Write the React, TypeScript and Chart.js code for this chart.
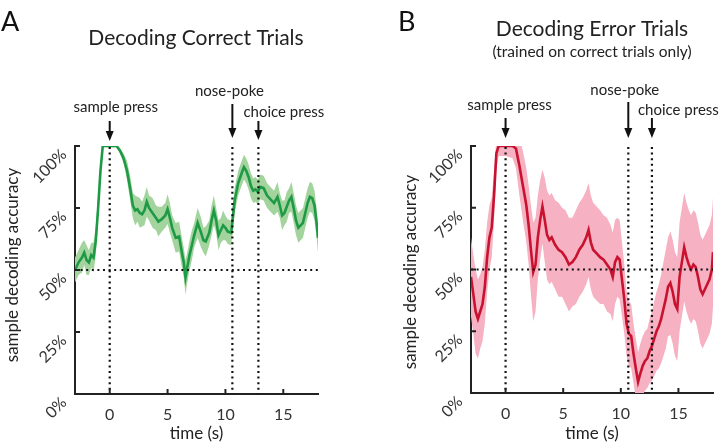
import React, { useEffect, useRef } from "react";
import { Chart, registerables } from "chart.js";

Chart.register(...registerables);

// ---------------- data ----------------
const TIME_A = [
  -3, -2.7, -2.4, -2.2, -2.0, -1.8, -1.6, -1.4, -1.2, -1.0, -0.8, -0.6, 0.0, 0.6, 0.9, 1.2, 1.5, 1.8, 2.0, 2.2,
  2.4, 2.6, 2.8, 3.0, 3.2, 3.4, 3.7, 4.0, 4.2, 4.5, 4.8, 5.0, 5.2, 5.4, 5.7, 6.0, 6.2, 6.4, 6.55, 6.7,
  6.9, 7.1, 7.3, 7.6, 7.9, 8.1, 8.3, 8.6, 8.8, 9.0, 9.2, 9.4, 9.6, 9.8, 10.0, 10.2, 10.5, 10.8, 11.1, 11.4,
  11.6, 11.8, 12.0, 12.2, 12.4, 12.6, 12.8, 13.0, 13.3, 13.6, 13.9, 14.2, 14.5, 14.7, 14.9, 15.1, 15.3, 15.5, 15.7, 15.9,
  16.1, 16.3, 16.5, 16.7, 16.9, 17.1, 17.3, 17.5, 17.7, 17.9, 18.0,
];
const ACC_A = [
  50, 53, 55, 57, 54, 53, 56, 55, 62, 75, 90, 100, 100, 100, 98, 95, 90, 82, 76, 74,
  74.5, 73, 72.5, 74, 77.5, 75, 73, 71, 69.5, 70.5, 72, 74.5, 71, 67, 63, 63.5, 58, 53, 47, 51,
  56, 60, 64, 69, 65, 62, 61.5, 65, 70, 74, 70, 64, 66, 68, 67, 65.5, 65, 78, 85, 89,
  91.5, 90, 87.5, 84, 82, 82.5, 81.5, 83.5, 83, 80, 78.5, 77, 79.5, 76, 72, 73, 75.5, 78, 79.5, 75,
  70, 67, 68, 69, 73, 77, 79.5, 79, 76, 68, 63,
];
const ERR_A = [
  5, 5, 6, 5, 6, 5, 5, 6, 6, 5, 3, 0.5, 0.5, 0.5, 1, 2, 4, 5, 5, 6,
  5, 6, 5, 6, 6, 5, 6, 5, 6, 5, 5, 6, 6, 5, 6, 6, 6, 6, 7, 6,
  6, 6, 5, 6, 6, 5, 6, 5, 6, 6, 5, 6, 5, 6, 5, 5, 5, 5, 5, 5,
  5, 5, 5, 5, 5, 5, 5, 5, 5, 5, 5, 5, 6, 5, 6, 5, 6, 5, 6, 6,
  6, 6, 6, 6, 6, 6, 6, 6, 6, 6, 6,
];

const TIME_B = [
  -3, -2.8, -2.6, -2.4, -2.2, -2.0, -1.8, -1.6, -1.4, -1.2, -1.0, -0.8, -0.6, 0.0, 0.6, 0.9, 1.2, 1.5, 1.8, 2.0,
  2.2, 2.4, 2.6, 2.8, 3.0, 3.2, 3.4, 3.6, 3.8, 4.0, 4.3, 4.6, 4.9, 5.2, 5.5, 5.8, 6.1, 6.4, 6.7, 7.0,
  7.2, 7.4, 7.6, 7.9, 8.2, 8.5, 8.8, 9.1, 9.3, 9.5, 9.7, 9.9, 10.1, 10.3, 10.5, 10.7, 10.9, 11.1, 11.3, 11.5,
  11.7, 11.9, 12.1, 12.3, 12.5, 12.7, 12.9, 13.1, 13.3, 13.5, 13.7, 13.9, 14.1, 14.3, 14.5, 14.7, 14.9, 15.1, 15.3, 15.5,
  15.7, 15.9, 16.1, 16.3, 16.5, 16.7, 16.9, 17.1, 17.3, 17.5, 17.7, 17.9, 18.0,
];
const ACC_B = [
  47, 40, 33, 30, 33, 36, 43, 55, 63, 67, 80, 97, 100, 100, 100, 99, 92, 84, 76, 68,
  58, 49, 52, 63, 70, 75.5, 70, 64, 62, 63, 60, 58, 57, 55, 52, 53, 55, 58, 60, 63,
  66, 61, 58, 56.5, 55, 54, 52, 50, 47, 53, 55, 54, 46, 38, 28, 24, 23, 16, 10, 4.5,
  8, 11, 13, 14, 17, 19, 22, 25, 27, 30, 34, 38, 43, 44.5, 41, 36, 34, 47, 53, 59,
  55, 52, 50, 52, 51, 47, 42, 40, 42, 44, 46, 50, 57,
];
const ERR_B = [
  16, 16, 17, 16, 15, 15, 15, 14, 13, 12, 10, 6, 4, 4, 5, 8, 12, 14, 15, 16,
  18, 20, 19, 17, 16, 15, 17, 18, 18, 18, 18, 19, 18, 19, 19, 18, 19, 19, 19, 19,
  19, 19, 19, 19, 19, 18, 19, 18, 18, 17, 16, 16, 15, 14, 13, 13, 13, 12, 12, 12,
  12, 12, 12, 12, 13, 14, 15, 16, 17, 18, 19, 20, 20, 21, 21, 21, 21, 22, 22, 22,
  22, 22, 22, 22, 22, 22, 22, 22, 22, 22, 22, 22, 22,
];

const X_TICKS = [0, 5, 10, 15];
const Y_TICKS = [0, 25, 50, 75, 100];
const Y_TICK_LABELS = ["0%", "25%", "50%", "75%", "100%"];
const EVENT_LABELS = ["sample press", "nose-poke", "choice press"];
const EVENT_TIMES_A = [0, 10.6, 12.85];
const EVENT_TIMES_B = [0, 10.65, 12.7];
const CHANCE_LEVEL = 50;
const X_MIN = -3;
const X_MAX = 18;

// ---------------- styling ----------------
const FONT = "Lato, 'Open Sans', sans-serif";
const TEXT = "#222";

type EventPos = { dx: number; baseline: number; align: CanvasTextAlign; arrowTop: number; arrowBottom: number };

type Panel = {
  letter: string;
  letterX: number;
  title: string;
  titleX: number;
  titleY: number;
  subtitle?: string;
  subtitleY?: number;
  time: number[];
  acc: number[];
  err: number[];
  events: number[];
  eventPos: EventPos[];
  line: string;
  band: string;
  yAxisWidth: number;
  padRight: number;
  xAxisHeight: number;
  yTitleX: number;
  yTitleY: number;
};

const PANEL_A: Panel = {
  letter: "A",
  letterX: 1,
  title: "Decoding Correct Trials",
  titleX: 196,
  titleY: 45,
  time: TIME_A,
  acc: ACC_A,
  err: ERR_A,
  events: EVENT_TIMES_A,
  eventPos: [
    { dx: 6, baseline: 112, align: "center", arrowTop: 121, arrowBottom: 141 },
    { dx: -3, baseline: 96, align: "center", arrowTop: 104, arrowBottom: 138 },
    { dx: -15, baseline: 117, align: "left", arrowTop: 121, arrowBottom: 140 },
  ],
  line: "#1e9a46",
  band: "#a3d49e",
  yAxisWidth: 75,
  padRight: 42,
  xAxisHeight: 50,
  yTitleX: 13,
  yTitleY: 265,
};

const PANEL_B: Panel = {
  letter: "B",
  letterX: 38,
  title: "Decoding Error Trials",
  titleX: 232,
  titleY: 36,
  subtitle: "(trained on correct trials only)",
  subtitleY: 57,
  time: TIME_B,
  acc: ACC_B,
  err: ERR_B,
  events: EVENT_TIMES_B,
  eventPos: [
    { dx: 4, baseline: 110, align: "center", arrowTop: 118, arrowBottom: 138 },
    { dx: -3.5, baseline: 95, align: "center", arrowTop: 102, arrowBottom: 138 },
    { dx: -14, baseline: 115, align: "left", arrowTop: 118, arrowBottom: 138 },
  ],
  line: "#c8122f",
  band: "#f6b1c2",
  yAxisWidth: 111,
  padRight: 7,
  xAxisHeight: 51,
  yTitleX: 51,
  yTitleY: 272,
};

function makeDecor(p: Panel) {
  return {
    id: "decor" + p.letter,
    afterDatasetsDraw(chart: any) {
      const { ctx, chartArea: a, scales } = chart;
      const xs = scales.x;
      const ys = scales.y;
      ctx.save();
      ctx.strokeStyle = "#111";
      ctx.lineWidth = 2.2;
      ctx.setLineDash([2, 3.6]);
      const y50 = ys.getPixelForValue(CHANCE_LEVEL);
      ctx.beginPath();
      ctx.moveTo(a.left, y50);
      ctx.lineTo(a.right, y50);
      ctx.stroke();
      p.events.forEach((t) => {
        const x = xs.getPixelForValue(t);
        ctx.beginPath();
        ctx.moveTo(x, a.top + 1);
        ctx.lineTo(x, a.bottom);
        ctx.stroke();
      });
      ctx.restore();
    },
    afterDraw(chart: any) {
      const { ctx, chartArea: a, scales } = chart;
      const xs = scales.x;
      const ys = scales.y;
      ctx.save();
      ctx.strokeStyle = "#222";
      ctx.lineWidth = 2;
      X_TICKS.forEach((v) => {
        const x = xs.getPixelForValue(v);
        ctx.beginPath();
        ctx.moveTo(x, a.bottom);
        ctx.lineTo(x, a.bottom - 5);
        ctx.stroke();
      });
      Y_TICKS.forEach((v) => {
        const y = ys.getPixelForValue(v);
        ctx.beginPath();
        ctx.moveTo(a.left, y);
        ctx.lineTo(a.left + 5, y);
        ctx.stroke();
      });
      ctx.fillStyle = "#333";
      ctx.font = `16px ${FONT}`;
      Y_TICKS.forEach((v, i) => {
        const y = ys.getPixelForValue(v);
        ctx.save();
        ctx.translate(a.left - 11, y + 6);
        ctx.rotate(-Math.PI / 4);
        ctx.textAlign = "right";
        ctx.textBaseline = "middle";
        ctx.fillText(Y_TICK_LABELS[i], 0, 0);
        ctx.restore();
      });
      ctx.save();
      ctx.translate(p.yTitleX, p.yTitleY);
      ctx.rotate(-Math.PI / 2);
      ctx.textAlign = "center";
      ctx.textBaseline = "middle";
      ctx.font = `17px ${FONT}`;
      ctx.fillStyle = TEXT;
      ctx.fillText("sample decoding accuracy", 0, 0);
      ctx.restore();
      ctx.fillStyle = "#111";
      ctx.textBaseline = "alphabetic";
      ctx.textAlign = "left";
      ctx.font = `27px ${FONT}`;
      ctx.fillText(p.letter, p.letterX, 31);
      ctx.textAlign = "center";
      ctx.font = `21px ${FONT}`;
      ctx.fillStyle = TEXT;
      ctx.fillText(p.title, p.titleX, p.titleY);
      if (p.subtitle) {
        ctx.font = `15.5px ${FONT}`;
        ctx.fillText(p.subtitle, p.titleX, p.subtitleY!);
      }
      ctx.font = `15px ${FONT}`;
      p.events.forEach((t, i) => {
        const x = xs.getPixelForValue(t);
        const ep = p.eventPos[i];
        ctx.textAlign = ep.align;
        ctx.fillStyle = TEXT;
        ctx.fillText(EVENT_LABELS[i], x + ep.dx, ep.baseline);
        ctx.strokeStyle = "#111";
        ctx.fillStyle = "#111";
        ctx.lineWidth = 2;
        ctx.beginPath();
        ctx.moveTo(x, ep.arrowTop);
        ctx.lineTo(x, ep.arrowBottom - 8);
        ctx.stroke();
        ctx.beginPath();
        ctx.moveTo(x - 4, ep.arrowBottom - 10);
        ctx.lineTo(x + 4, ep.arrowBottom - 10);
        ctx.lineTo(x, ep.arrowBottom);
        ctx.closePath();
        ctx.fill();
      });
      ctx.restore();
    },
  };
}

function buildChart(canvas: HTMLCanvasElement, p: Panel) {
  const mean = p.time.map((t, i) => ({ x: t, y: p.acc[i] }));
  const upper = p.time.map((t, i) => ({ x: t, y: p.acc[i] + p.err[i] }));
  const lower = p.time.map((t, i) => ({ x: t, y: p.acc[i] - p.err[i] }));
  return new Chart(canvas, {
    type: "line",
    data: {
      datasets: [
        { label: "mean", data: mean, borderColor: p.line, borderWidth: 2.6, pointRadius: 0, fill: false, tension: 0 },
        {
          label: "upper",
          data: upper,
          borderWidth: 0,
          borderColor: "rgba(0,0,0,0)",
          backgroundColor: p.band,
          pointRadius: 0,
          fill: "+1",
          tension: 0,
        },
        { label: "lower", data: lower, borderWidth: 0, borderColor: "rgba(0,0,0,0)", pointRadius: 0, fill: false, tension: 0 },
      ],
    },
    options: {
      responsive: false,
      animation: false,
      devicePixelRatio: 1,
      layout: { padding: { top: 146, right: p.padRight, left: 0, bottom: 0 } },
      plugins: { legend: { display: false }, tooltip: { enabled: false }, title: { display: false } },
      scales: {
        x: {
          type: "linear",
          min: X_MIN,
          max: X_MAX,
          grid: { display: false },
          border: { display: true, color: "#222", width: 2 },
          afterBuildTicks: (scale: any) => {
            scale.ticks = X_TICKS.map((v) => ({ value: v }));
          },
          afterFit: (scale: any) => {
            scale.height = p.xAxisHeight;
          },
          ticks: { color: "#333", font: { family: FONT, size: 16 }, padding: 3, maxRotation: 0 },
          title: { display: true, text: "time (s)", color: TEXT, font: { family: FONT, size: 17 }, padding: 0 },
        },
        y: {
          type: "linear",
          min: 0,
          max: 100,
          grid: { display: false },
          border: { display: true, color: "#222", width: 2 },
          ticks: { display: false },
          afterFit: (scale: any) => {
            scale.width = p.yAxisWidth;
          },
        },
      },
    },
    plugins: [makeDecor(p)],
  } as any);
}

function PanelChart({ panel, left }: { panel: Panel; left: number }) {
  const ref = useRef<HTMLCanvasElement | null>(null);
  useEffect(() => {
    if (!ref.current) return;
    const chart = buildChart(ref.current, panel);
    return () => chart.destroy();
  }, [panel]);
  return (
    <div style={{ position: "absolute", left, top: 0, width: 360, height: 444 }}>
      <canvas ref={ref} width={360} height={444} style={{ width: 360, height: 444, display: "block" }} />
    </div>
  );
}

export default function App() {
  return (
    <div style={{ position: "fixed", left: 0, top: 0, width: 720, height: 444, background: "#fff", overflow: "hidden" }}>
      <PanelChart panel={PANEL_A} left={0} />
      <PanelChart panel={PANEL_B} left={360} />
    </div>
  );
}
